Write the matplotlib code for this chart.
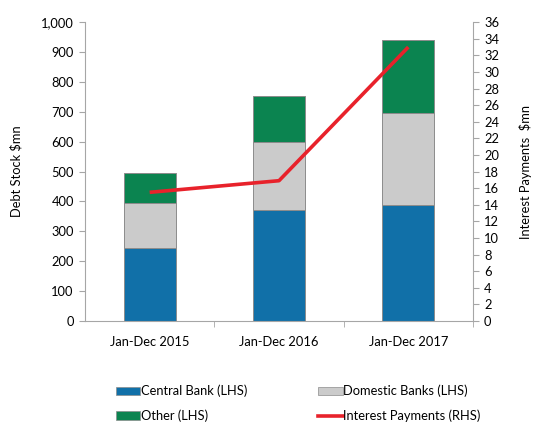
import numpy as np
import matplotlib.pyplot as plt
from matplotlib.lines import Line2D
from matplotlib.patches import Patch
from matplotlib.ticker import FuncFormatter, MultipleLocator

# Debt stock by holder ($mn) and interest payments ($mn)
periods = ['Jan-Dec 2015', 'Jan-Dec 2016', 'Jan-Dec 2017']
central_bank = [245, 371, 388]
domestic_banks = [150, 229, 308]
other = [100, 152, 244]
interest = [15.5, 16.9, 33.0]

plt.rcParams['font.family'] = ['Lato', 'DejaVu Sans']
plt.rcParams['font.size'] = 9.3

c_blue = '#1170a8'
c_gray = '#cbcbcb'
c_green = '#0b8450'
c_red = '#e8222b'
c_axis = '#a6a6a6'

fig = plt.figure(figsize=(5.33, 4.26), dpi=100)
ax = fig.add_axes([0.1595, 0.2465, 0.7279, 0.7015])
ax2 = ax.twinx()

x = np.arange(len(periods))
w = 0.40
edge = dict(edgecolor='#8c8c8c', linewidth=0.7)
ax.bar(x, central_bank, w, color=c_blue, **edge, zorder=2)
ax.bar(x, domestic_banks, w, bottom=central_bank, color=c_gray, **edge, zorder=2)
bottom2 = np.add(central_bank, domestic_banks)
ax.bar(x, other, w, bottom=bottom2, color=c_green, **edge, zorder=2)

ax2.plot(x, interest, color=c_red, linewidth=2.6, solid_capstyle='butt', zorder=3)

ax.set_xlim(-0.5, 2.5)
ax.set_ylim(0, 1000)
ax.yaxis.set_major_locator(MultipleLocator(100))
ax.yaxis.set_major_formatter(FuncFormatter(lambda v, p: f'{v:,.0f}'))
ax2.set_ylim(0, 36)
ax2.yaxis.set_major_locator(MultipleLocator(2))

ax.set_xticks(x)
ax.set_xticklabels(periods)
ax.set_xticks([0.5, 1.5, 2.5], minor=True)
ax.tick_params(axis='x', which='major', length=0, pad=11)
ax.tick_params(axis='x', which='minor', length=4, color=c_axis, direction='out')
ax.tick_params(axis='y', length=4, color=c_axis, pad=4)
ax2.tick_params(axis='y', length=4, color=c_axis, pad=4)

for a in (ax, ax2):
    a.spines['top'].set_visible(False)
    for s in ('left', 'right', 'bottom'):
        a.spines[s].set_color(c_axis)
ax.spines['right'].set_visible(False)
ax2.spines['left'].set_visible(False)
ax2.spines['bottom'].set_visible(False)

ax.set_ylabel('Debt Stock $mn', labelpad=13)
ax2.set_ylabel('Interest Payments  $mn', labelpad=14)

# legend fills column by column, so order entries to read row by row
handles = [
    Patch(facecolor=c_blue, edgecolor='#8c8c8c', linewidth=0.5),
    Patch(facecolor=c_green, edgecolor='#8c8c8c', linewidth=0.5),
    Patch(facecolor=c_gray, edgecolor='#8c8c8c', linewidth=0.5),
    Line2D([], [], color=c_red, linewidth=2.6),
]
labels = ['Central Bank (LHS)', 'Other (LHS)', 'Domestic Banks (LHS)', 'Interest Payments (RHS)']
fig.legend(handles, labels, loc='lower left', bbox_to_anchor=(0.195, -0.018), ncol=2,
           frameon=False, handlelength=1.9, handleheight=0.6, handletextpad=0.05,
           columnspacing=5.5, labelspacing=0.95)

fig.savefig('out.png', dpi=100)
